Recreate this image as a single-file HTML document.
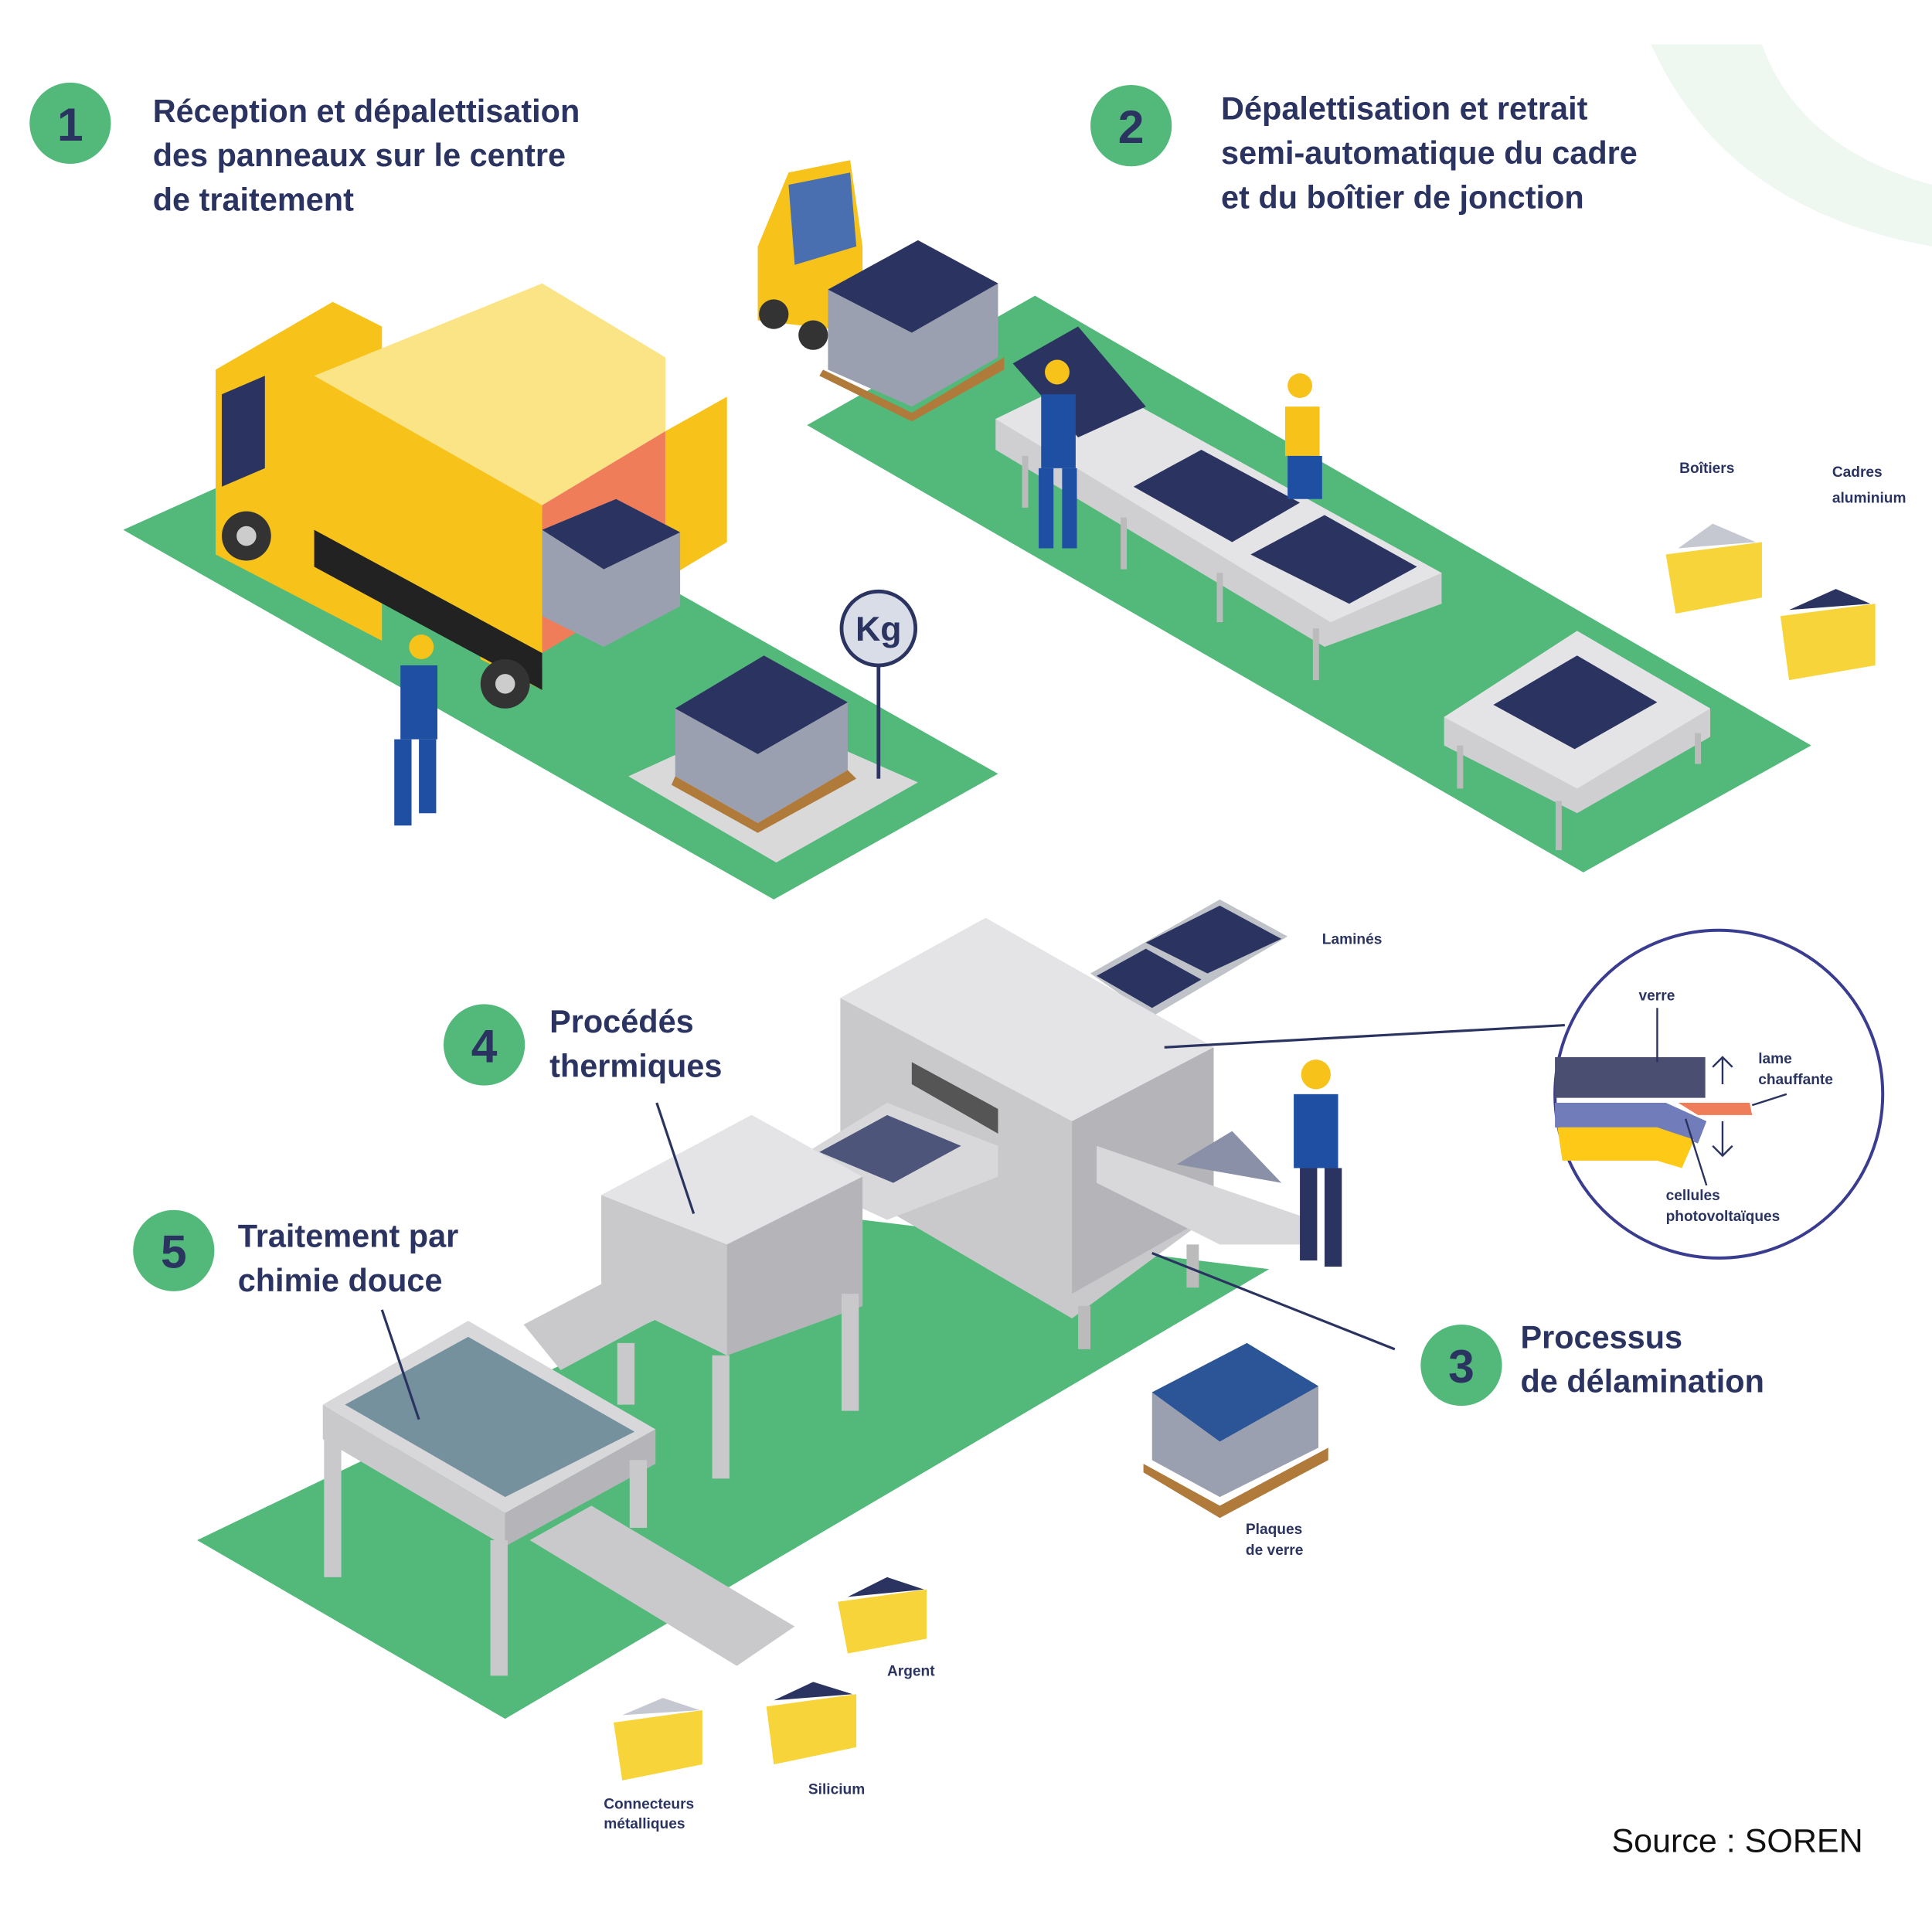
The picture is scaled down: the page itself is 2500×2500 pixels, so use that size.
<!DOCTYPE html>
<html><head><meta charset="utf-8"><style>
html,body{margin:0;padding:0;background:#fff}
svg{display:block}
.t{font-family:"Liberation Sans",sans-serif;font-weight:bold;fill:#2b3461}
.n{font-family:"Liberation Sans",sans-serif;font-weight:bold;fill:#2b3461;text-anchor:middle}
.s{font-family:"Liberation Sans",sans-serif;font-weight:bold;fill:#2b3461;font-size:12px}
</style></head><body>
<svg width="2500" height="2500" viewBox="0 0 1568 1568" xmlns="http://www.w3.org/2000/svg">
<rect width="1568" height="1568" fill="#fff"/>
<path d="M1340 36 Q1400 170 1568 200 L1568 150 Q1460 120 1430 36 Z" fill="#eef7f0"/>
<!-- floors -->
<polygon points="100,430 300,340 810,628 628,730" fill="#52b97a"/>
<polygon points="655,345 840,240 1470,605 1285,708" fill="#52b97a"/>
<polygon points="160,1250 700,990 1030,1030 410,1395" fill="#52b97a"/>
<polygon points="510,630 620,580 745,635 630,700" fill="#d9d9d9"/>
<!-- truck -->
<polygon points="175,300 270,245 310,265 310,520 175,450" fill="#f7c21a"/>
<polygon points="180,320 215,305 215,380 180,395" fill="#2b3461"/>
<polygon points="255,305 440,230 540,290 540,350 440,410 255,310" fill="#fbe486"/>
<polygon points="255,305 440,410 440,530 255,430" fill="#f7c21a"/>
<polygon points="440,410 540,350 540,470 440,530" fill="#f07d5a"/>
<polygon points="540,350 590,322 590,440 540,470" fill="#f7c21a"/>
<polygon points="390,410 440,435 440,560 390,535" fill="#f7c21a"/>
<polygon points="255,430 440,530 440,560 255,460" fill="#222"/>
<circle cx="200" cy="435" r="20" fill="#333"/><circle cx="200" cy="435" r="8" fill="#ccc"/>
<circle cx="410" cy="555" r="20" fill="#333"/><circle cx="410" cy="555" r="8" fill="#ccc"/>
<!-- pallet in truck -->
<polygon points="440,430 500,405 552,432 552,492 490,525 440,500" fill="#9aa0b0"/>
<polygon points="440,430 500,405 552,432 490,462" fill="#2b3461"/>
<!-- pallet on floor -->
<polygon points="548,575 620,532 688,570 688,625 615,668 548,630" fill="#9aa0b0"/>
<polygon points="548,575 620,532 688,570 615,612" fill="#2b3461"/>
<polygon points="548,630 615,668 688,625 695,632 615,676 545,637" fill="#b07a3a"/>
<line x1="713" y1="530" x2="713" y2="632" stroke="#2b3461" stroke-width="3"/>
<circle cx="713" cy="510" r="30" fill="#d8dde8" stroke="#2b3461" stroke-width="3"/>
<text x="713" y="520" class="n" font-size="28">Kg</text>
<!-- worker 1 -->
<circle cx="342" cy="525" r="10" fill="#f7c21a"/>
<rect x="325" y="540" width="30" height="60" fill="#1f4fa3"/>
<rect x="320" y="600" width="14" height="70" fill="#1f4fa3"/><rect x="340" y="600" width="14" height="60" fill="#1f4fa3"/>
<!-- forklift -->
<polygon points="615,200 640,140 690,130 700,200 700,270 615,260" fill="#f7c21a"/>
<polygon points="640,150 690,140 695,200 645,215" fill="#4a6fb0"/>
<circle cx="628" cy="255" r="12" fill="#333"/><circle cx="660" cy="272" r="12" fill="#333"/>
<polygon points="672,235 745,195 810,230 810,290 740,330 672,300" fill="#9aa0b0"/>
<polygon points="672,235 745,195 810,230 740,270" fill="#2b3461"/>
<polygon points="668,300 740,335 815,290 815,300 740,342 665,305" fill="#b07a3a"/>
<!-- table 2 -->
<polygon points="808,340 880,305 1170,465 1170,490 1075,525 808,365" fill="#cfcfd2"/>
<polygon points="808,340 880,305 1170,465 1080,505" fill="#e4e4e6"/>
<polygon points="920,395 975,365 1055,408 1000,440" fill="#2b3461"/>
<polygon points="1015,450 1075,418 1150,460 1095,490" fill="#2b3461"/>
<polygon points="822,295 875,265 930,330 875,355" fill="#2b3461"/>
<line x1="912" y1="420" x2="912" y2="462" stroke="#bbb" stroke-width="5"/>
<line x1="990" y1="465" x2="990" y2="505" stroke="#bbb" stroke-width="5"/>
<line x1="1068" y1="510" x2="1068" y2="552" stroke="#bbb" stroke-width="5"/>
<line x1="832" y1="370" x2="832" y2="412" stroke="#bbb" stroke-width="5"/>
<circle cx="858" cy="302" r="10" fill="#f7c21a"/>
<rect x="845" y="320" width="28" height="60" fill="#1f4fa3"/>
<rect x="843" y="380" width="12" height="65" fill="#1f4fa3"/><rect x="862" y="380" width="12" height="65" fill="#1f4fa3"/>
<circle cx="1055" cy="313" r="10" fill="#f7c21a"/>
<rect x="1043" y="330" width="28" height="40" fill="#f7c21a"/>
<rect x="1045" y="370" width="28" height="35" fill="#1f4fa3"/>
<!-- table 2b -->
<polygon points="1172,582 1280,512 1388,575 1388,598 1280,660 1172,605" fill="#cfcfd2"/>
<polygon points="1172,582 1280,512 1388,575 1280,640" fill="#e4e4e6"/>
<polygon points="1212,572 1280,532 1345,570 1278,608" fill="#2b3461"/>
<line x1="1185" y1="605" x2="1185" y2="640" stroke="#bbb" stroke-width="5"/>
<line x1="1265" y1="650" x2="1265" y2="690" stroke="#bbb" stroke-width="5"/>
<line x1="1378" y1="595" x2="1378" y2="620" stroke="#bbb" stroke-width="5"/>
<!-- bins top right -->
<polygon points="1352,450 1430,440 1430,485 1360,498" fill="#f7d53a"/>
<polygon points="1362,445 1390,425 1425,440" fill="#c5c8d0"/>
<polygon points="1445,500 1522,490 1522,540 1452,552" fill="#f7d53a"/>
<polygon points="1452,495 1490,478 1518,490" fill="#2b3461"/>
<text x="1363" y="384" class="s" font-size="14">Boîtiers</text>
<text x="1487" y="387" class="s" font-size="14">Cadres</text>
<text x="1487" y="408" class="s" font-size="14">aluminium</text>
<!-- delamination machine -->
<polygon points="885,790 990,730 1045,760 935,825" fill="#bfc2c8"/>
<polygon points="890,792 930,770 975,795 935,818" fill="#2b3461"/>
<polygon points="930,765 990,735 1040,762 980,790" fill="#2b3461"/>
<polygon points="682,810 800,745 985,850 985,985 870,1070 682,960" fill="#c9c9cc"/>
<polygon points="682,810 800,745 985,850 870,910" fill="#e4e4e6"/>
<polygon points="870,910 985,850 985,985 870,1050" fill="#b5b5b9"/>
<polygon points="740,862 810,900 810,920 740,880" fill="#555"/>
<polygon points="890,930 1065,990 1060,1010 990,1010 890,960" fill="#d8d8db"/>
<polygon points="955,945 1000,918 1040,960" fill="#8a90a8"/>
<line x1="880" y1="1060" x2="880" y2="1095" stroke="#bbb" stroke-width="10"/>
<line x1="968" y1="1010" x2="968" y2="1045" stroke="#bbb" stroke-width="10"/>
<!-- worker 3 -->
<circle cx="1068" cy="872" r="12" fill="#f7c21a"/>
<rect x="1050" y="888" width="36" height="60" fill="#1f4fa3"/>
<rect x="1055" y="948" width="14" height="75" fill="#2b3461"/><rect x="1075" y="948" width="14" height="80" fill="#2b3461"/>
<!-- thermal machine -->
<polygon points="655,935 720,895 810,930 810,955 720,990 655,960" fill="#d8d8db"/>
<polygon points="665,935 720,905 780,930 725,960" fill="#2b3461" opacity=".8"/>
<polygon points="488,970 610,905 700,955 700,1060 590,1100 488,1050" fill="#c9c9cc"/>
<polygon points="488,970 610,905 700,955 590,1010" fill="#e4e4e6"/>
<polygon points="590,1010 700,955 700,1060 590,1100" fill="#b5b5b9"/>
<polygon points="425,1075 540,1015 570,1050 455,1112" fill="#c9c9cc"/>
<line x1="585" y1="1100" x2="585" y2="1200" stroke="#c9c9cc" stroke-width="14"/>
<line x1="690" y1="1050" x2="690" y2="1145" stroke="#c9c9cc" stroke-width="14"/>
<line x1="508" y1="1090" x2="508" y2="1140" stroke="#c9c9cc" stroke-width="14"/>
<!-- chemistry tank -->
<polygon points="262,1140 380,1072 532,1160 410,1228" fill="#d8d8db"/>
<polygon points="280,1140 380,1085 515,1162 410,1215" fill="#75919e"/>
<polygon points="262,1140 410,1228 410,1255 262,1168" fill="#c9c9cc"/>
<polygon points="410,1228 532,1160 532,1188 410,1255" fill="#b5b5b9"/>
<polygon points="430,1250 480,1222 645,1320 598,1352" fill="#c9c9cc"/>
<line x1="270" y1="1165" x2="270" y2="1280" stroke="#c9c9cc" stroke-width="14"/>
<line x1="405" y1="1250" x2="405" y2="1360" stroke="#c9c9cc" stroke-width="14"/>
<line x1="518" y1="1185" x2="518" y2="1240" stroke="#c9c9cc" stroke-width="14"/>
<!-- glass plates pallet -->
<polygon points="935,1130 1012,1090 1070,1125 1070,1175 990,1215 935,1185" fill="#9aa0b0"/>
<polygon points="935,1130 1012,1090 1070,1125 990,1170" fill="#2b5596"/>
<polygon points="928,1188 990,1222 1078,1175 1078,1185 990,1232 928,1195" fill="#b07a3a"/>
<!-- small bins -->
<polygon points="680,1300 752,1290 752,1330 688,1342" fill="#f7d53a"/>
<polygon points="688,1296 720,1280 750,1290" fill="#2b3461"/>
<polygon points="622,1385 695,1375 695,1418 628,1432" fill="#f7d53a"/>
<polygon points="628,1380 660,1365 692,1375" fill="#2b3461"/>
<polygon points="498,1398 570,1388 570,1432 505,1445" fill="#f7d53a"/>
<polygon points="505,1392 538,1378 568,1388" fill="#c5c8d0"/>
<!-- leader lines -->
<line x1="945" y1="850" x2="1270" y2="832" stroke="#2b3461" stroke-width="2"/>
<line x1="935" y1="1017" x2="1132" y2="1095" stroke="#2b3461" stroke-width="2"/>
<line x1="533" y1="895" x2="563" y2="985" stroke="#2b3461" stroke-width="2"/>
<line x1="310" y1="1063" x2="340" y2="1152" stroke="#2b3461" stroke-width="2"/>
<!-- detail circle -->
<circle cx="1395" cy="888" r="133" fill="#fff" stroke="#3a3c90" stroke-width="2.5"/>
<rect x="1262" y="858" width="122" height="33" fill="#4a4e70"/>
<polygon points="1262,895 1352,895 1385,910 1378,928 1345,915 1262,915" fill="#717cbb"/>
<polygon points="1264,915 1345,915 1375,925 1365,948 1345,942 1268,942" fill="#fec917"/>
<polygon points="1362,895 1420,895 1422,905 1378,905" fill="#f07d5a"/>
<line x1="1345" y1="818" x2="1345" y2="862" stroke="#2b3461" stroke-width="1.5"/>
<path d="M1398 858 V880 M1390 866 L1398 858 L1406 866 M1398 910 V938 M1390 930 L1398 938 L1406 930" stroke="#2b3461" stroke-width="1.5" fill="none"/>
<line x1="1422" y1="897" x2="1450" y2="888" stroke="#2b3461" stroke-width="1.5"/>
<line x1="1368" y1="908" x2="1385" y2="962" stroke="#2b3461" stroke-width="1.5"/>
<text x="1330" y="812" class="s" font-size="10">verre</text>
<text x="1427" y="863" class="s" font-size="10">lame</text>
<text x="1427" y="880" class="s" font-size="10">chauffante</text>
<text x="1352" y="974" class="s" font-size="10">cellules</text>
<text x="1352" y="991" class="s" font-size="10">photovoltaïques</text>
<!-- small labels -->
<text x="1073" y="766" class="s" font-size="14">Laminés</text>
<text x="1011" y="1245" class="s" font-size="11">Plaques</text>
<text x="1011" y="1262" class="s" font-size="11">de verre</text>
<text x="720" y="1360" class="s" font-size="12">Argent</text>
<text x="656" y="1456" class="s" font-size="11">Silicium</text>
<text x="490" y="1468" class="s" font-size="11">Connecteurs</text>
<text x="490" y="1484" class="s" font-size="11">métalliques</text>
<!-- number circles -->
<g fill="#52b97a">
<circle cx="57" cy="100" r="33"/><circle cx="918" cy="102" r="33"/><circle cx="393" cy="848" r="33"/><circle cx="141" cy="1015" r="33"/><circle cx="1186" cy="1108" r="33"/>
</g>
<text x="57" y="114" class="n" font-size="38">1</text>
<text x="918" y="116" class="n" font-size="38">2</text>
<text x="393" y="862" class="n" font-size="38">4</text>
<text x="141" y="1029" class="n" font-size="38">5</text>
<text x="1186" y="1122" class="n" font-size="38">3</text>
<text class="t" font-size="26"><tspan x="124" y="99">Réception et dépalettisation</tspan><tspan x="124" y="135">des panneaux sur le centre</tspan><tspan x="124" y="171">de traitement</tspan></text>
<text class="t" font-size="26"><tspan x="991" y="97">Dépalettisation et retrait</tspan><tspan x="991" y="133">semi-automatique du cadre</tspan><tspan x="991" y="169">et du boîtier de jonction</tspan></text>
<text class="t" font-size="26"><tspan x="446" y="838">Procédés</tspan><tspan x="446" y="874">thermiques</tspan></text>
<text class="t" font-size="26"><tspan x="193" y="1012">Traitement par</tspan><tspan x="193" y="1048">chimie douce</tspan></text>
<text class="t" font-size="26"><tspan x="1234" y="1094">Processus</tspan><tspan x="1234" y="1130">de délamination</tspan></text>
<text x="1308" y="1503" font-family="Liberation Sans, sans-serif" font-size="27" fill="#111">Source : SOREN</text>
</svg>
</body></html>
